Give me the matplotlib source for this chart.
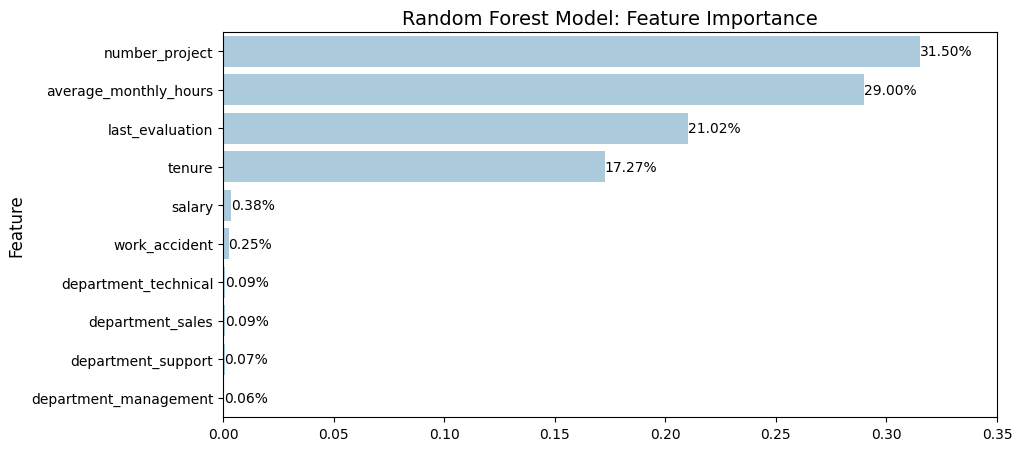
import matplotlib
matplotlib.use("Agg")
import matplotlib.pyplot as plt

features = ["number_project", "average_monthly_hours", "last_evaluation", "tenure",
            "salary", "work_accident", "department_technical", "department_sales",
            "department_support", "department_management"]
importance = [0.3150, 0.2900, 0.2102, 0.1727, 0.0038, 0.0025, 0.0009, 0.0009, 0.0007, 0.0006]

fig = plt.figure(figsize=(10.23, 4.52), dpi=100)
ax = fig.add_axes([223/1023, 34/452 * 0 + (452-418)/452, (997-223)/1023, (418-33)/452])
y = list(range(len(features)))
bars = ax.barh(y, importance, height=0.8, color="#abcbdc")
ax.set_yticks(y)
ax.set_yticklabels(features)
ax.set_ylim(len(features) - 0.5, -0.5)
ax.set_xlim(0, 0.35)
ax.set_xticks([0, 0.05, 0.10, 0.15, 0.20, 0.25, 0.30, 0.35])
ax.set_xticklabels(["0.00", "0.05", "0.10", "0.15", "0.20", "0.25", "0.30", "0.35"])
ax.bar_label(bars, labels=[f"{v*100:.2f}%" for v in importance], padding=0, fontsize=10)
ax.set_title("Random Forest Model: Feature Importance", fontsize=14)
ax.set_ylabel("Feature", fontsize=12)
fig.savefig("out.png", dpi=100)
